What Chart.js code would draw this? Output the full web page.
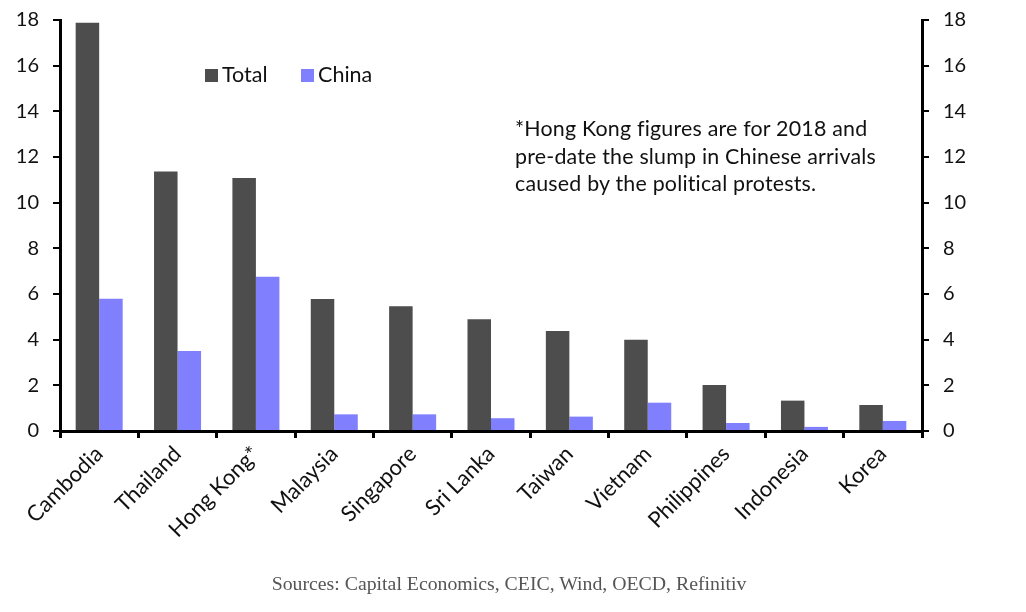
<!DOCTYPE html>
<html>
<head>
<meta charset="utf-8">
<script src="https://cdn.jsdelivr.net/npm/chart.js@4"></script>
<style>
  body { margin: 0; background: #fff; }
  #wrap { position: relative; width: 1026px; height: 612px; }
  #legend { position: absolute; left: 205px; top: 61px; font: 21.5px Lato, sans-serif; color: #111; white-space: nowrap; }
  #legend span.sw { display: inline-block; width: 13px; height: 13px; margin-right: 4px; vertical-align: 0px; }
  #legend .item { display: inline-block; margin-right: 28px; }
  #note { position: absolute; left: 515px; top: 115px; font: 21.4px Lato, sans-serif; letter-spacing: 0.2px; line-height: 27.5px; color: #111; white-space: nowrap; }
  #sources { position: absolute; left: 0; width: 1018px; top: 572px; text-align: center; font: 19.8px "Liberation Serif", serif; color: #555; }
</style>
</head>
<body>
<div id="wrap">
  <canvas id="chart"></canvas>
  <div id="legend">
    <span class="item"><span class="sw" style="background:#4d4d4d"></span>Total</span>
    <span class="item"><span class="sw" style="background:#8080ff"></span>China</span>
  </div>
  <div id="note">*Hong Kong figures are for 2018 and<br>pre-date the slump in Chinese arrivals<br>caused by the political protests.</div>
  <div id="sources">Sources: Capital Economics, CEIC, Wind, OECD, Refinitiv</div>
</div>
<script>
const countries = ["Cambodia", "Thailand", "Hong Kong*", "Malaysia", "Singapore", "Sri Lanka",
  "Taiwan", "Vietnam", "Philippines", "Indonesia", "Korea"];
const totalArrivals = [17.88, 11.37, 11.08, 5.78, 5.46, 4.89, 4.38, 4.0, 2.02, 1.33, 1.14];
const chinaArrivals = [5.79, 3.5, 6.76, 0.73, 0.73, 0.56, 0.63, 1.24, 0.35, 0.18, 0.44];
const yTicks = [0, 2, 4, 6, 8, 10, 12, 14, 16, 18];

const ctx = document.getElementById("chart").getContext("2d");

// fixed axis sizes so the plot area lines up with the picture
function fitSide(width) {
  return (scale) => {
    scale.width = width;
    scale.paddingTop = 10; // tick padding would otherwise push the top down
    scale.paddingBottom = 10;
  };
}

new Chart(ctx, {
  type: "bar",
  data: {
    labels: countries,
    datasets: [
      { label: "Total", data: totalArrivals, backgroundColor: "#4d4d4d", yAxisID: "y" },
      { label: "China", data: chinaArrivals, backgroundColor: "#8080ff", yAxisID: "y" }
    ]
  },
  options: {
    responsive: true,
    maintainAspectRatio: false,
    animation: false,
    layout: { padding: { top: 20, left: 0, right: 0, bottom: 0 } },
    datasets: { bar: { categoryPercentage: 0.6, barPercentage: 1.0 } },
    plugins: {
      legend: { display: false },
      tooltip: { enabled: false }
    },
    scales: {
      x: {
        grid: { drawOnChartArea: false, drawTicks: true, tickLength: 7, color: "#000", lineWidth: 3, offset: true },
        border: { color: "#000", width: 3 },
        ticks: {
          color: "#111",
          font: { family: "Lato, sans-serif", size: 22 },
          maxRotation: 45,
          minRotation: 45,
          padding: 3
        },
        afterFit: (scale) => { scale.height = 181; }
      },
      y: {
        position: "left",
        min: 0,
        max: 18,
        grid: { drawOnChartArea: false, drawTicks: true, tickLength: 7, color: "#000", lineWidth: 2 },
        border: { color: "#000", width: 3 },
        afterBuildTicks: (scale) => { scale.ticks = yTicks.map(v => ({ value: v })); },
        ticks: {
          color: "#111",
          font: { family: "Lato, sans-serif", size: 20 },
          padding: 14
        },
        afterFit: fitSide(60)
      },
      y2: {
        position: "right",
        min: 0,
        max: 18,
        grid: { drawOnChartArea: false, drawTicks: true, tickLength: 7, color: "#000", lineWidth: 2 },
        border: { color: "#000", width: 3 },
        afterBuildTicks: (scale) => { scale.ticks = yTicks.map(v => ({ value: v })); },
        ticks: {
          color: "#111",
          font: { family: "Lato, sans-serif", size: 20 },
          padding: 14
        },
        afterFit: fitSide(104)
      }
    }
  }
});
</script>
</body>
</html>
